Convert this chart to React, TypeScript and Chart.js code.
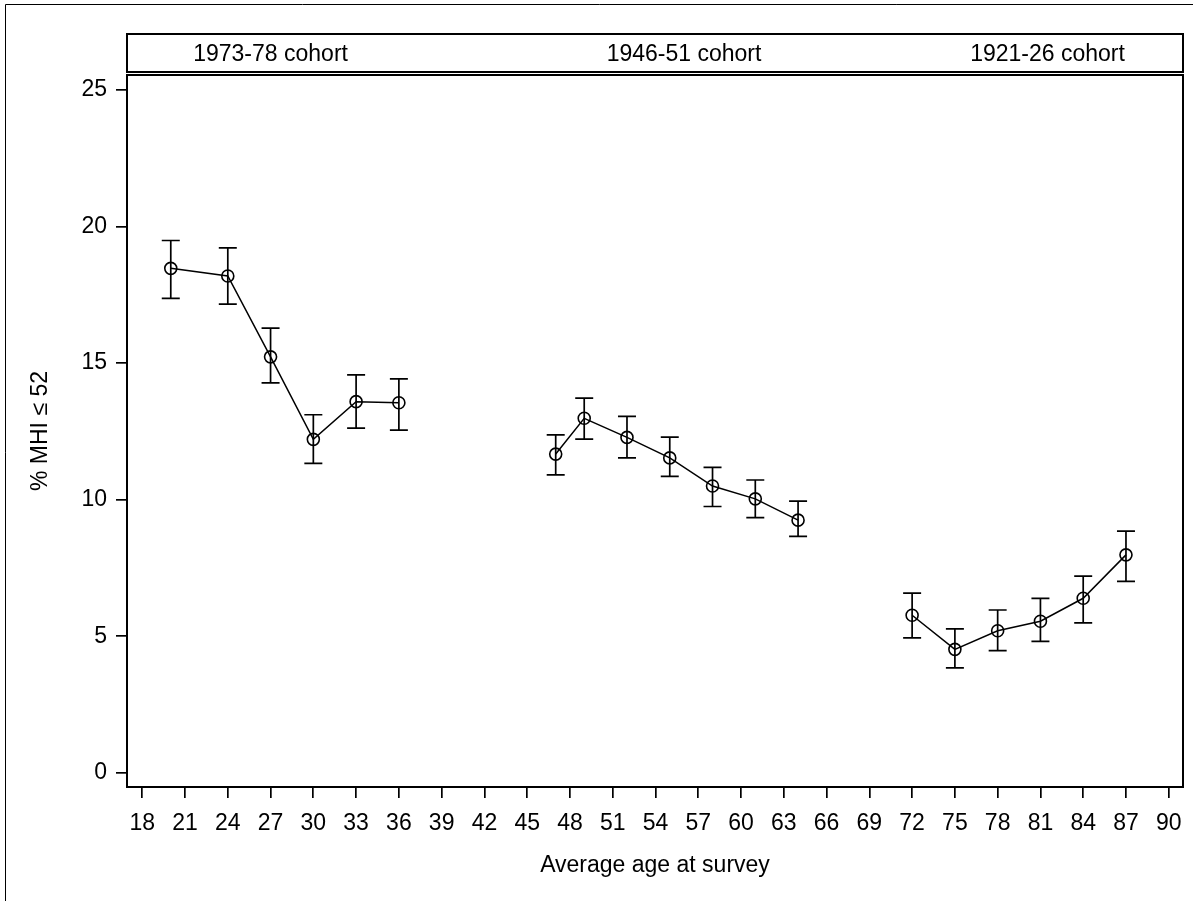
import React, { useEffect, useRef } from 'react';
import { Chart, registerables } from 'chart.js';

Chart.register(...registerables);

const FONT = '"Liberation Sans", Arial, Helvetica, sans-serif';

// Cohort header labels and their x (age) positions
const cohortLabels = ['1973-78 cohort', '1946-51 cohort', '1921-26 cohort'];
const cohortLabelX = [27, 56, 81.5];

// 1973-78 cohort
const ages1 = [20, 24, 27, 30, 33, 36];
const pct1 = [18.47, 18.19, 15.23, 12.21, 13.59, 13.55];
const lo1 = [17.37, 17.16, 14.28, 11.33, 12.62, 12.55];
const hi1 = [19.49, 19.22, 16.28, 13.11, 14.57, 14.42];

// 1946-51 cohort
const ages2 = [47, 49, 52, 55, 58, 61, 64];
const pct2 = [11.67, 12.98, 12.28, 11.53, 10.5, 10.03, 9.25];
const lo2 = [10.91, 12.22, 11.53, 10.85, 9.75, 9.34, 8.66];
const hi2 = [12.37, 13.72, 13.05, 12.29, 11.18, 10.72, 9.95];

// 1921-26 cohort
const ages3 = [72, 75, 78, 81, 84, 87];
const pct3 = [5.77, 4.52, 5.2, 5.55, 6.39, 7.98];
const lo3 = [4.94, 3.84, 4.47, 4.81, 5.49, 7.01];
const hi3 = [6.58, 5.27, 5.96, 6.39, 7.2, 8.85];

// Axis ticks
const xTicks = [18, 21, 24, 27, 30, 33, 36, 39, 42, 45, 48, 51, 54, 57, 60, 63, 66, 69, 72, 75, 78, 81, 84, 87, 90];
const yTicks = [0, 5, 10, 15, 20, 25];

const xTitle = 'Average age at survey';
const yTitle = '% MHI \u2264 52';

export default function App() {
  const ref = useRef<HTMLCanvasElement>(null);

  useEffect(() => {
    const canvas = ref.current;
    if (!canvas) return;

    const groups = [
      { x: ages1, y: pct1, lo: lo1, hi: hi1 },
      { x: ages2, y: pct2, lo: lo2, hi: hi2 },
      { x: ages3, y: pct3, lo: lo3, hi: hi3 },
    ];

    const datasets = groups.map((g) => ({
      data: g.x.map((a, i) => ({ x: a, y: g.y[i] })),
      borderColor: '#000',
      borderWidth: 1.5,
      showLine: true,
      fill: false,
      tension: 0,
      pointRadius: 6,
      pointHoverRadius: 6,
      pointBorderWidth: 1.6,
      pointBorderColor: '#000',
      pointBackgroundColor: 'rgba(0,0,0,0)',
    }));

    const decor = {
      id: 'decor',
      beforeDraw(chart: any) {
        const ctx = chart.ctx;
        const { left, right, top } = chart.chartArea;
        ctx.save();
        ctx.strokeStyle = '#000';
        ctx.lineWidth = 1;
        ctx.beginPath();
        ctx.moveTo(5.5, 901);
        ctx.lineTo(5.5, 4.5);
        ctx.lineTo(1193, 4.5);
        ctx.stroke();

        ctx.lineWidth = 2;
        ctx.strokeRect(left, top - 41, right - left, 38);
        ctx.fillStyle = '#000';
        ctx.font = `23px ${FONT}`;
        ctx.textAlign = 'center';
        ctx.textBaseline = 'middle';
        const xs = chart.scales.x;
        cohortLabels.forEach((t, i) => {
          ctx.fillText(t, xs.getPixelForValue(cohortLabelX[i]), top - 20);
        });
        ctx.restore();
      },
      afterDatasetsDraw(chart: any) {
        const ctx = chart.ctx;
        const xs = chart.scales.x;
        const ys = chart.scales.y;
        ctx.save();
        ctx.strokeStyle = '#000';
        ctx.lineWidth = 1.7;
        const cap = 9;
        groups.forEach((g) => {
          g.x.forEach((a, i) => {
            const px = xs.getPixelForValue(a);
            const yl = ys.getPixelForValue(g.lo[i]);
            const yh = ys.getPixelForValue(g.hi[i]);
            ctx.beginPath();
            ctx.moveTo(px, yl);
            ctx.lineTo(px, yh);
            ctx.moveTo(px - cap, yl);
            ctx.lineTo(px + cap, yl);
            ctx.moveTo(px - cap, yh);
            ctx.lineTo(px + cap, yh);
            ctx.stroke();
          });
        });
        ctx.restore();
      },
      afterDraw(chart: any) {
        const ctx = chart.ctx;
        const { left, right, top, bottom } = chart.chartArea;
        ctx.save();
        ctx.strokeStyle = '#000';
        ctx.lineWidth = 2;
        ctx.strokeRect(left, top, right - left, bottom - top);
        ctx.restore();
      },
    };

    const chart = new Chart(canvas, {
      type: 'scatter',
      data: { datasets: datasets as any },
      options: {
        animation: false,
        responsive: false,
        devicePixelRatio: 1,
        events: [],
        layout: { padding: { top: 75, right: 20, bottom: 0, left: 0 } },
        plugins: {
          legend: { display: false },
          tooltip: { enabled: false },
        },
        scales: {
          x: {
            type: 'linear',
            min: 16.93,
            max: 91,
            afterFit(scale: any) {
              scale.height = 114;
            },
            afterBuildTicks(scale: any) {
              scale.ticks = xTicks.map((v) => ({ value: v }));
            },
            grid: {
              display: true,
              drawOnChartArea: false,
              drawTicks: true,
              tickLength: 11,
              color: '#000',
              lineWidth: 1.7,
            },
            border: { display: true, color: '#000', width: 2 },
            ticks: {
              color: '#000',
              font: { family: FONT, size: 23 },
              padding: 12,
              maxRotation: 0,
              autoSkip: false,
            },
            title: {
              display: true,
              text: xTitle,
              color: '#000',
              font: { family: FONT, size: 23 },
              padding: { top: 0, bottom: 22 },
            },
          },
          y: {
            type: 'linear',
            min: -0.52,
            max: 25.55,
            afterFit(scale: any) {
              scale.width = 127;
            },
            afterBuildTicks(scale: any) {
              scale.ticks = yTicks.map((v) => ({ value: v }));
            },
            grid: {
              display: true,
              drawOnChartArea: false,
              drawTicks: true,
              tickLength: 11,
              color: '#000',
              lineWidth: 1.7,
            },
            border: { display: true, color: '#000', width: 2 },
            ticks: {
              color: '#000',
              font: { family: FONT, size: 23 },
              padding: 9,
              autoSkip: false,
            },
            title: {
              display: true,
              text: yTitle,
              color: '#000',
              font: { family: FONT, size: 23 },
              padding: { top: 27, bottom: 0 },
            },
          },
        },
      },
      plugins: [decor],
    });

    return () => {
      chart.destroy();
    };
  }, []);

  return (
    <div style={{ position: 'fixed', left: 0, top: 0, width: 1203, height: 901, background: '#fff' }}>
      <canvas ref={ref} width={1203} height={901} style={{ width: 1203, height: 901, display: 'block' }} />
    </div>
  );
}
